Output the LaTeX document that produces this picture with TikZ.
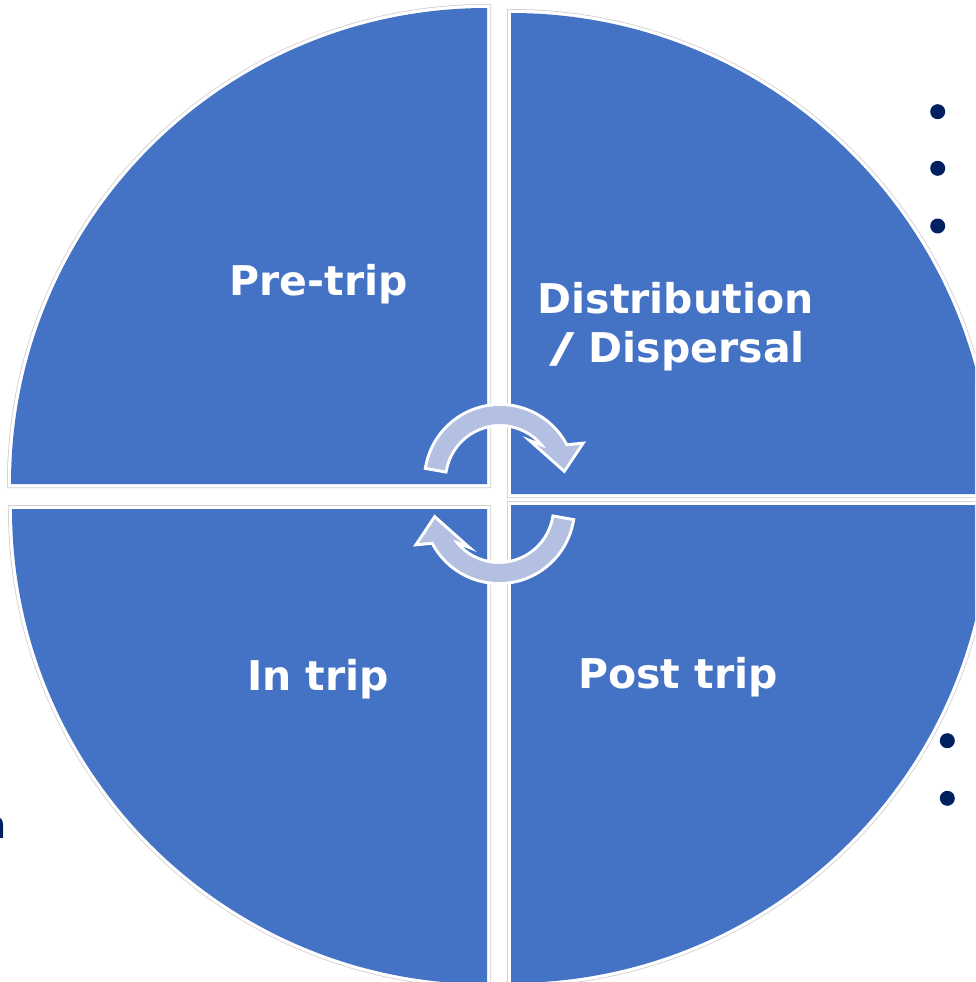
\documentclass[tikz,border=0pt]{standalone}
\usepackage{fontspec}
\setmainfont{DejaVu Sans}
\definecolor{qblue}{HTML}{4472C4}
\definecolor{lav}{RGB}{180,192,226}
\definecolor{navy}{HTML}{002060}
\definecolor{edgegray}{RGB}{205,205,205}
\tikzset{
 qsector/.style={preaction={draw=edgegray,line width=8pt}, preaction={draw=white,line width=6.5pt}, fill=qblue},
 cyclearrow/.style={preaction={draw=white,line width=6pt}, fill=lav},
 quadlabel/.style={text=white, font=\fontsize{41}{49.5}\selectfont\bfseries, inner sep=0pt, anchor=base},
 dotmark/.style={circle, fill=navy, minimum size=15pt, inner sep=0pt},
}
\begin{document}
\begin{tikzpicture}[x=1pt,y=-1pt]
\useasboundingbox (0,0) rectangle (975,982);
\clip (0,0) rectangle (975,982);
% quarter sectors
\path[qsector] (487,484) -- (487,8) arc[start angle=270, end angle=180, radius=476] -- cycle;
\path[qsector] (511,494) -- (511,13) arc[start angle=270, end angle=360, radius=481] -- cycle;
\path[qsector] (487,509) -- (12,509) arc[start angle=180, end angle=90, radius=475] -- cycle;
\path[qsector] (511,505) -- (989,505) arc[start angle=0, end angle=90, radius=478] -- cycle;
% cycle arrows
\begin{scope}[shift={(500,480)}]
\path[cyclearrow] (190:74) arc[start angle=190, end angle=333, radius=74] -- (80,-35) -- (64,-11) -- (37,-35) -- (326:56) arc[start angle=326, end angle=190, radius=56] -- cycle;
\end{scope}
\begin{scope}[shift={(499,508)}, rotate=180]
\path[cyclearrow] (190:74) arc[start angle=190, end angle=333, radius=74] -- (80,-35) -- (64,-11) -- (37,-35) -- (326:56) arc[start angle=326, end angle=190, radius=56] -- cycle;
\end{scope}
% labels
\node[quadlabel] (pre) at (318.5,295) {Pre-trip};
\node[quadlabel] (dist1) at (675.5,313) {Distribution};
\node[quadlabel] (dist2) at (677,362) {\scalebox{1.7}[1]{/} Dispersal};
\node[quadlabel] (intrip) at (318,690) {In trip};
\node[quadlabel] (post) at (678,688) {Post trip};
% bullets
\node[dotmark] (b1) at (937.7,111.7) {};
\node[dotmark] (b2) at (937.7,168.3) {};
\node[dotmark] (b3) at (937.7,226) {};
\node[dotmark] (b4) at (947.3,740.7) {};
\node[dotmark] (b5) at (947.3,798.3) {};
% clipped letter at left edge
\node[text=navy, font=\fontsize{38}{40}\selectfont\bfseries, anchor=base east, inner sep=0pt] (nfrag) at (7,838) {n};
\end{tikzpicture}
\end{document}
